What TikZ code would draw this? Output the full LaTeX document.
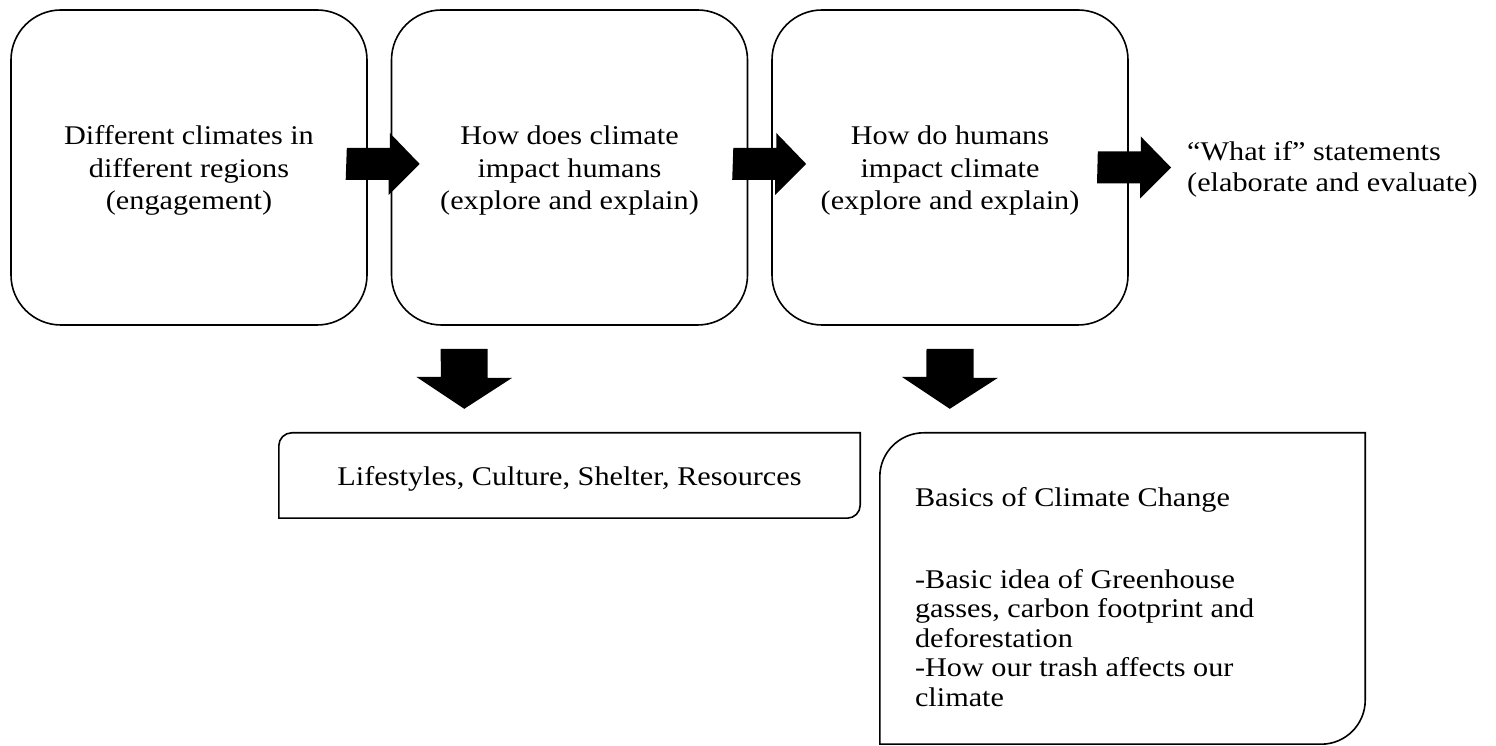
\documentclass[tikz,border=0pt]{standalone}
\usepackage{fontspec}
\setmainfont[FakeStretch=1.12]{Liberation Serif}
\usetikzlibrary{calc}
\newcommand\rblock[2]{\fill (#1) ++(0,16) -- ++(43,0) -- ++(0,15) -- (#2) -- ++(-31,-31) -- ++(0,15) -- ++(-43,0) -- cycle;}
\newcommand\dblock[2]{\fill (#1) ++(-23.5,0) -- ++(47,0) -- ++(0,-29) -- ++(24.5,0) -- (#2) -- ++(-48,32) -- ++(24.5,0) -- cycle;}
\newcommand\topstrut{\rule{0pt}{25pt}}
\begin{document}
\begin{tikzpicture}[x=1pt,y=1pt,
  boxline/.style={draw=black, line width=1.6pt},
  bigbox/.style={boxline, rounded corners=50pt, minimum width=356pt, minimum height=315pt,
    align=center, inner sep=0pt, font=\fontsize{27}{32.5}\selectfont},
  plain/.style={inner sep=0pt, font=\fontsize{27}{31}\selectfont},
  frame/.style={inner sep=0pt}]
\useasboundingbox (0,0) rectangle (1496,746);
\node[bigbox] (b1) at (189,578.5) {\topstrut Different climates in\\different regions\\(engagement)};
\node[bigbox] (b2) at (569.5,578.5) {\topstrut How does climate\\impact humans\\(explore and explain)};
\node[bigbox] (b3) at (950,578.5) {\topstrut How do humans\\impact climate\\(explore and explain)};
\node[plain, align=left, anchor=west] (w) at (1187,577) {“What if” statements\\(elaborate and evaluate)};
% right block arrows
\coordinate (a1s) at ($(b1.east)+(-21,3.5)$);
\coordinate (a1t) at ($(b2.west)+(29,3.5)$);
\coordinate (a2s) at ($(b2.east)+(-15,3.5)$);
\coordinate (a2t) at ($(b3.west)+(35,3.5)$);
\coordinate (a3s) at ($(b3.east)+(-31,0)$);
\coordinate (a3t) at ($(w.west)+(-16,1.5)$);
\rblock{a1s}{a1t}
\rblock{a2s}{a2t}
\rblock{a3s}{a3t}
% lifestyles box
\node[frame, minimum width=581pt, minimum height=85pt, text height=26pt, text depth=5pt,
  font=\fontsize{27}{31}\selectfont] (life) at (569.5,270.5) {Lifestyles, Culture, Shelter, Resources};
\draw[boxline] (life.south west) -- ($(life.north west)+(0,-13)$) arc[start angle=180,end angle=90,radius=13]
  -- (life.north east) -- ($(life.south east)+(0,13)$) arc[start angle=0,end angle=-90,radius=13] -- cycle;
% basics box
\node[frame, minimum width=485pt, minimum height=311pt] (basics) at (1122.5,157.5) {};
\draw[boxline] (basics.south west) -- ($(basics.north west)+(0,-44)$) arc[start angle=180,end angle=90,radius=44]
  -- (basics.north east) -- ($(basics.south east)+(0,44)$) arc[start angle=0,end angle=-90,radius=44] -- cycle;
\node[inner sep=0pt, anchor=north west, align=left, font=\fontsize{27}{29.5}\selectfont] (bt)
  at ($(basics.north west)+(35,-54)$)
  {Basics of Climate Change\\[52.5pt]-Basic idea of Greenhouse\\gasses, carbon footprint and\\deforestation\\-How our trash affects our\\climate};
% down block arrows
\coordinate (d1s) at ($(b2.south west)+(73.5,-23)$);
\coordinate (d1t) at ($(life.north west)+(185.5,24)$);
\coordinate (d2s) at ($(b3.south)+(0,-23)$);
\coordinate (d2t) at ($(basics.north west)+(70,24)$);
\dblock{d1s}{d1t}
\dblock{d2s}{d2t}
\end{tikzpicture}
\end{document}
